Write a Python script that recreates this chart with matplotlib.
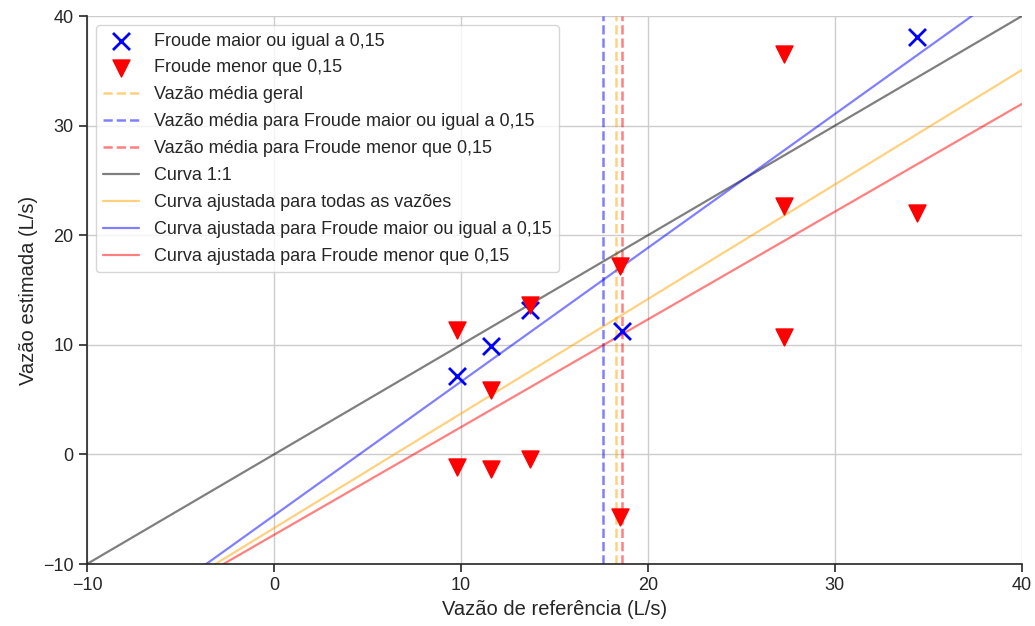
import numpy as np
import matplotlib
matplotlib.use("Agg")
import matplotlib.pyplot as plt
import seaborn as sns

# reference flow (x) and estimated flow (y)
x_alto = [9.8, 11.6, 13.7, 18.6, 34.4]
y_alto = [7.2, 9.9, 13.2, 11.3, 38.1]

x_baixo = [9.8, 9.8, 11.6, 11.6, 13.7, 13.7, 18.5, 18.5, 27.3, 27.3, 27.3, 34.4]
y_baixo = [11.4, -1.1, 5.9, -1.3, 13.6, -0.4, 17.2, -5.7, 36.6, 22.7, 10.7, 22.0]

lim = [-10, 40]

sns.set_theme(style="ticks")
plt.rcParams['font.family'] = ['Liberation Sans', 'DejaVu Sans']

fig = plt.figure(figsize=(10.35, 6.26), dpi=100)
ax = fig.add_axes([0.084, 0.099, 0.903, 0.875])

ax.scatter(x_alto, y_alto, marker='x', s=150, color='blue', linewidths=2,
           label='Froude maior ou igual a 0,15', zorder=3)
ax.scatter(x_baixo, y_baixo, marker='v', s=150, color='red',
           label='Froude menor que 0,15', zorder=3)

x_all = np.array(x_alto + x_baixo)
y_all = np.array(y_alto + y_baixo)

ax.axvline(np.mean(x_all), color='orange', alpha=0.5, ls='--', lw=1.8,
           label='Vazão média geral')
ax.axvline(np.mean(x_alto), color='blue', alpha=0.5, ls='--', lw=1.8,
           label='Vazão média para Froude maior ou igual a 0,15')
ax.axvline(np.mean(x_baixo), color='red', alpha=0.5, ls='--', lw=1.8,
           label='Vazão média para Froude menor que 0,15')

xx = np.linspace(lim[0], lim[1], 100)
ax.plot(xx, xx, color='black', alpha=0.5, lw=1.6, label='Curva 1:1')

for xs, ys, c, lab in [(x_all, y_all, 'orange', 'Curva ajustada para todas as vazões'),
                       (x_alto, y_alto, 'blue', 'Curva ajustada para Froude maior ou igual a 0,15'),
                       (x_baixo, y_baixo, 'red', 'Curva ajustada para Froude menor que 0,15')]:
    a, b = np.polyfit(xs, ys, 1)
    ax.plot(xx, a * xx + b, color=c, alpha=0.5, lw=1.6, label=lab)

ax.set_xlim(lim)
ax.set_ylim(lim)
ax.set_xticks(np.arange(-10, 41, 10))
ax.set_yticks(np.arange(-10, 41, 10))
ax.grid(True, color='#cccccc', lw=1)
ax.tick_params(labelsize=13, length=6, width=1.2, color='#262626')
ax.set_xlabel('Vazão de referência (L/s)', fontsize=14.5)
ax.set_ylabel('Vazão estimada (L/s)', fontsize=14.5)
sns.despine(ax=ax)
for s in ['left', 'bottom']:
    ax.spines[s].set_linewidth(1.2)

ax.legend(loc='upper left', fontsize=13, frameon=True, labelspacing=0.55)

fig.savefig('out.png')
